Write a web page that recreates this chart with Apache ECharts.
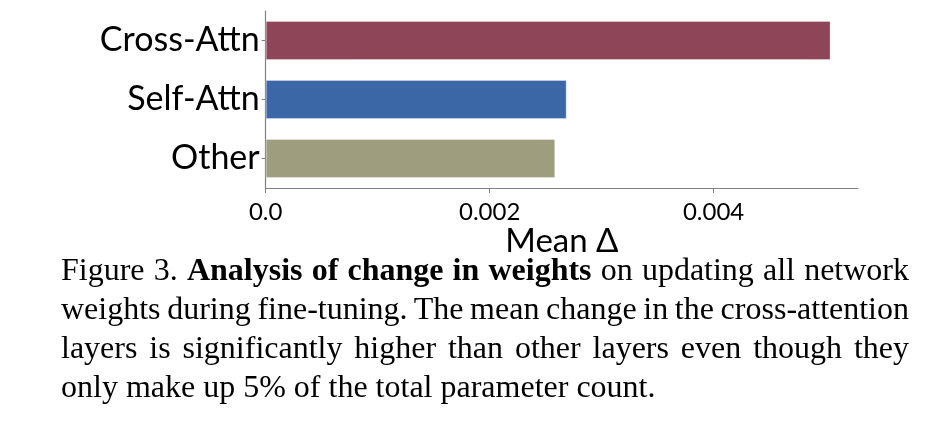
<!DOCTYPE html>
<html>
<head>
<meta charset="utf-8">
<script src="https://cdn.jsdelivr.net/npm/echarts@6/dist/echarts.min.js"></script>
<style>
  html, body { margin: 0; padding: 0; background: #fff; }
  #wrap { position: relative; width: 940px; height: 422px; }
  #chart { position: absolute; left: 0; top: 0; width: 940px; height: 422px; }
  #caption {
    position: absolute; left: 61px; top: 249.9px; width: 848px;
    font-family: "Liberation Serif", "Times New Roman", serif;
    font-size: 32px; line-height: 38.9px; color: #000;
  }
  #caption div { text-align: justify; text-align-last: justify; white-space: nowrap; word-spacing: -3px; }
  #caption div.last { text-align-last: left; word-spacing: 0; }
</style>
</head>
<body>
<div id="wrap">
  <div id="chart"></div>
  <div id="caption">
    <div>Figure 3. <b>Analysis of change in weights</b> on updating all network</div>
    <div>weights during fine-tuning. The mean change in the cross-attention</div>
    <div>layers is significantly higher than other layers even though they</div>
    <div class="last">only make up 5% of the total parameter count.</div>
  </div>
</div>
<script>
const categories = ['Cross-Attn', 'Self-Attn', 'Other'];
const meanDelta = [0.005045, 0.002688, 0.002586];
const barColors = ['#8E4558', '#3B67A6', '#9E9D7E'];
const tickValues = [0, 0.002, 0.004];

const chart = echarts.init(document.getElementById('chart'));

chart.setOption({
  animation: false,
  grid: { left: 265.7, top: 11, width: 592.3, height: 177, containLabel: false },
  xAxis: {
    type: 'value',
    min: 0,
    max: 0.00529,
    interval: 0.002,
    name: 'Mean \u0394',
    nameLocation: 'middle',
    nameGap: 27,
    nameTextStyle: { fontFamily: 'Lato', fontSize: 33, color: '#000' },
    axisLine: { show: true, lineStyle: { color: '#808080', width: 1.2 } },
    axisTick: { show: true, length: 5, customValues: tickValues, lineStyle: { color: '#808080' } },
    axisLabel: {
      customValues: tickValues,
      margin: 12,
      fontFamily: 'Lato', fontSize: 24, color: '#000',
      formatter: v => v === 0 ? '0.0' : v.toFixed(3)
    },
    splitLine: { show: false }
  },
  yAxis: {
    type: 'category',
    inverse: true,
    data: categories,
    axisLine: { show: true, lineStyle: { color: '#808080', width: 1.2 } },
    axisTick: { show: true, alignWithLabel: true, length: 4, lineStyle: { color: '#808080' } },
    axisLabel: { margin: 6, fontFamily: 'Lato', fontSize: 34, color: '#000' }
  },
  series: [{
    type: 'bar',
    barWidth: '66.5%',
    data: meanDelta.map((v, i) => ({
      value: v,
      itemStyle: { color: barColors[i], borderColor: 'rgba(255,255,255,0.35)', borderWidth: 1 }
    }))
  }]
});
</script>
</body>
</html>
